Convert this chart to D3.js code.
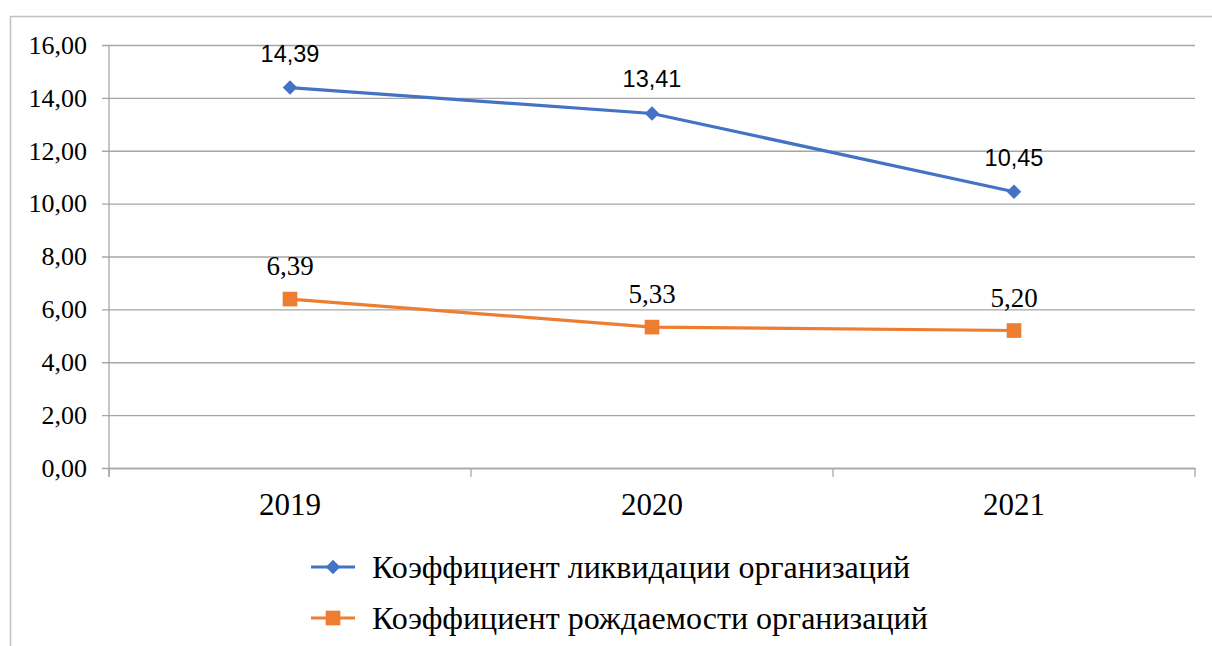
<!DOCTYPE html>
<html>
<head>
<meta charset="utf-8">
<script src="https://cdn.jsdelivr.net/npm/d3@7"></script>
<style>
  body { margin: 0; background: #fff; }
  svg { display: block; }
</style>
</head>
<body>
<div id="chart"></div>
<script>
// data
const years = ['2019', '2020', '2021'];
const liquidation = [14.39, 13.41, 10.45];
const birth = [6.39, 5.33, 5.20];
const seriesNames = ['Коэффициент ликвидации организаций', 'Коэффициент рождаемости организаций'];
const yTicks = [0, 2, 4, 6, 8, 10, 12, 14, 16];

const SERIF = '"Liberation Serif"';
const SANS = '"Liberation Sans"';

const W = 1212, H = 646;
const margin = {top: 45, right: 17, bottom: 178, left: 109};
const width = W - margin.left - margin.right;
const height = H - margin.top - margin.bottom;

const svg = d3.select('#chart').append('svg')
  .attr('width', W)
  .attr('height', H);

// outer chart border (runs off canvas on right and bottom)
svg.append('rect')
  .attr('x', 10.5).attr('y', 16.5)
  .attr('width', 1300).attr('height', 800)
  .attr('fill', 'none')
  .attr('stroke', '#bfbfbf')
  .attr('stroke-width', 1.5);

const g = svg.append('g')
  .attr('transform', 'translate(' + margin.left + ',' + margin.top + ')');

// scales
const xScale = d3.scaleBand().domain(years).range([0, width]);
const yScale = d3.scaleLinear().domain([0, 16]).range([height, 0]);

const fmt = v => d3.format('.2f')(v).replace('.', ',');

// gridlines + y axis
const yAxis = d3.axisLeft(yScale)
  .tickValues(yTicks)
  .tickSize(-width)
  .tickPadding(22)
  .tickFormat(fmt);

g.append('g')
  .attr('class', 'y-axis')
  .call(yAxis)
  .call(a => a.select('.domain').remove())
  .call(a => a.selectAll('.tick line')
    .attr('x1', -7)
    .attr('stroke', '#a6a6a6')
    .attr('stroke-width', 1.3))
  .call(a => a.selectAll('.tick text')
    .style('font-family', SERIF)
    .style('font-size', '26px')
    .attr('fill', '#000'));

// vertical axis line
g.append('line')
  .attr('x1', 0).attr('x2', 0)
  .attr('y1', 0).attr('y2', height + 9)
  .attr('stroke', '#a6a6a6').attr('stroke-width', 1.3);

// x axis
const xAxis = d3.axisBottom(xScale).tickSize(0).tickPadding(25);
g.append('g')
  .attr('class', 'x-axis')
  .attr('transform', 'translate(0,' + height + ')')
  .call(xAxis)
  .call(a => a.select('.domain').attr('stroke', '#a6a6a6').attr('stroke-width', 1.3))
  .call(a => a.selectAll('.tick text')
    .style('font-family', SERIF)
    .style('font-size', '31px')
    .attr('fill', '#000'));

// category boundary ticks
g.append('g').selectAll('line')
  .data(years.concat(['end']))
  .join('line')
  .attr('x1', (d, i) => i * xScale.step())
  .attr('x2', (d, i) => i * xScale.step())
  .attr('y1', height).attr('y2', height + 9)
  .attr('stroke', '#a6a6a6').attr('stroke-width', 1.3);

const cx = d => xScale(d) + xScale.bandwidth() / 2;

const series = [
  {name: seriesNames[0], values: liquidation, color: '#4472c4', rotate: 45, size: 105,
   font: SANS, fsize: 23.5, offset: 26},
  {name: seriesNames[1], values: birth, color: '#ed7d31', rotate: 0, size: 215,
   font: SERIF, fsize: 27, offset: 24}
];

const line = d3.line()
  .x(d => cx(d.year))
  .y(d => yScale(d.value));

const marker = d3.symbol().type(d3.symbolSquare);

series.forEach(s => {
  const pts = years.map((y, i) => ({year: y, value: s.values[i]}));

  g.append('path')
    .datum(pts)
    .attr('fill', 'none')
    .attr('stroke', s.color)
    .attr('stroke-width', 3.2)
    .attr('d', line);

  g.selectAll(null)
    .data(pts)
    .join('path')
    .attr('transform', d => 'translate(' + cx(d.year) + ',' + yScale(d.value) + ') rotate(' + s.rotate + ')')
    .attr('d', marker.size(s.size)())
    .attr('fill', s.color);

  g.selectAll(null)
    .data(pts)
    .join('text')
    .attr('x', d => cx(d.year))
    .attr('y', d => yScale(d.value) - s.offset)
    .attr('text-anchor', 'middle')
    .style('font-family', s.font)
    .style('font-size', s.fsize + 'px')
    .attr('fill', '#000')
    .text(d => fmt(d.value));
});

// legend
const legend = svg.append('g')
  .attr('transform', 'translate(311,567)');

const items = legend.selectAll('g')
  .data(series)
  .join('g')
  .attr('transform', (d, i) => 'translate(0,' + i * 51 + ')');

items.append('line')
  .attr('x1', 0).attr('x2', 44)
  .attr('stroke', d => d.color)
  .attr('stroke-width', 3.2);

items.append('path')
  .attr('transform', d => 'translate(22,0) rotate(' + d.rotate + ')')
  .attr('d', d => marker.size(d.size)())
  .attr('fill', d => d.color);

items.append('text')
  .attr('x', 61)
  .attr('dy', '0.35em')
  .style('font-family', SERIF)
  .style('font-size', '32px')
  .attr('fill', '#000')
  .text(d => d.name);
</script>
</body>
</html>
